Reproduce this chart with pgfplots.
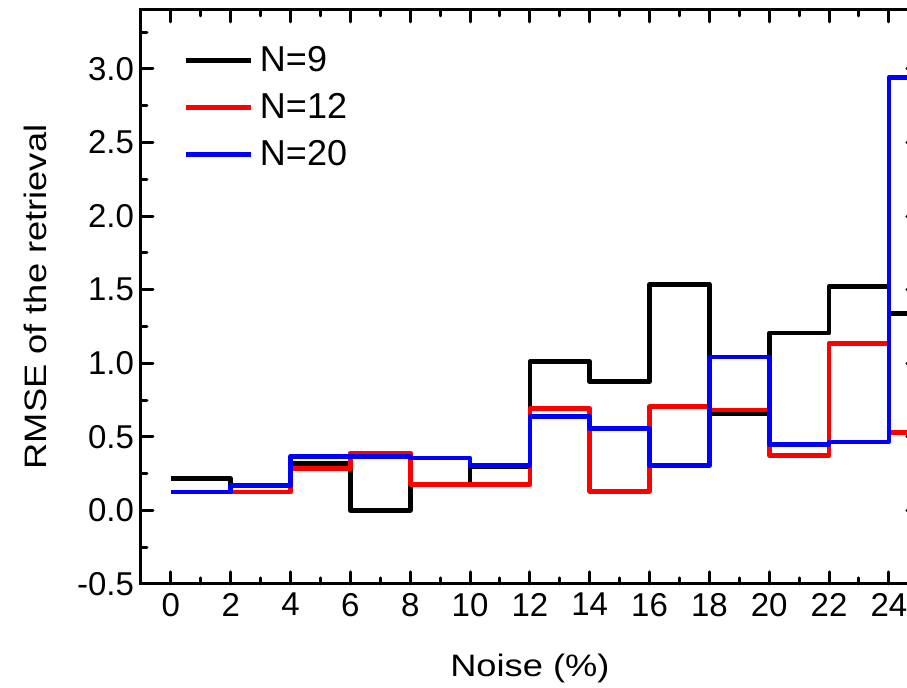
\documentclass[border=0pt]{standalone}
\usepackage{fontspec}
\setmainfont{Liberation Sans}
\newfontfamily\widefont[FakeStretch=1.17]{Liberation Sans}
\usepackage{pgfplots}
\pgfplotsset{compat=1.18}

\begin{document}
\begin{tikzpicture}
\useasboundingbox (-70.5pt,-52pt) rectangle (383pt,292pt);
\clip (-70.5pt,-52pt) rectangle (383pt,292pt);
\begin{axis}[
    at={(0,0)}, anchor=south west,
    scale only axis, width=388.9pt, height=287pt,
    xmin=-1, xmax=25, ymin=-0.5, ymax=3.4,
    xtick={0,2,4,6,8,10,12,14,16,18,20,22,24},
    minor xtick={1,3,5,7,9,11,13,15,17,19,21,23,25},
    ytick={-0.5,0,0.5,1.0,1.5,2.0,2.5,3.0},
    minor ytick={-0.25,0.25,0.75,1.25,1.75,2.25,2.75,3.25},
    tick align=inside,
    major tick length=6pt, minor tick length=3pt,
    every tick/.style={black, line width=1.5pt, line cap=round},
    axis line style={line width=1.5pt},
    tick label style={font=\fontsize{16.5}{19}\selectfont},
    /pgf/number format/assume math mode=true,
    yticklabel style={/pgf/number format/.cd, fixed, fixed zerofill, precision=1},
    xticklabel style={yshift=-1pt},
    xlabel={Noise (\%)},
    ylabel={RMSE of the retrieval},
    label style={font=\widefont\fontsize{15.5}{18}\selectfont},
    xlabel style={at={(axis description cs:0.5,0)}, anchor=center, yshift=-42pt},
    ylabel style={at={(axis description cs:0,0.5)}, anchor=center, yshift=53pt},
    legend style={at={(axis description cs:0,1)}, anchor=north west,
        xshift=18pt, yshift=-14pt, draw=none, fill=none,
        font=\fontsize{18}{21}\selectfont, row sep=5.5pt},
    legend cell align=left,
    legend image code/.code={\draw[#1] (0pt,0pt) -- (32.5pt,0pt); \path (34pt,0pt);},
    const plot mark left,
    every axis plot/.append style={line width=2.3pt, line join=round},
]
\addplot[black] coordinates {
    (0,0.216) (2,0.17) (4,0.32) (6,0.0) (8,0.18) (10,0.295) (12,1.011)
    (14,0.875) (16,1.534) (18,0.659) (20,1.204) (22,1.522) (24,1.336) (26,1.336)
};
\addlegendentry{N=9}
\addplot[red] coordinates {
    (0,0.125) (2,0.125) (4,0.284) (6,0.39) (8,0.175) (10,0.175) (12,0.693)
    (14,0.13) (16,0.704) (18,0.682) (20,0.375) (22,1.136) (24,0.53) (26,0.53)
};
\addlegendentry{N=12}
\addplot[blue] coordinates {
    (0,0.125) (2,0.17) (4,0.368) (6,0.368) (8,0.355) (10,0.307) (12,0.636)
    (14,0.557) (16,0.305) (18,1.041) (20,0.448) (22,0.466) (24,2.943) (26,2.943)
};
\addlegendentry{N=20}
\end{axis}
\end{tikzpicture}
\end{document}
